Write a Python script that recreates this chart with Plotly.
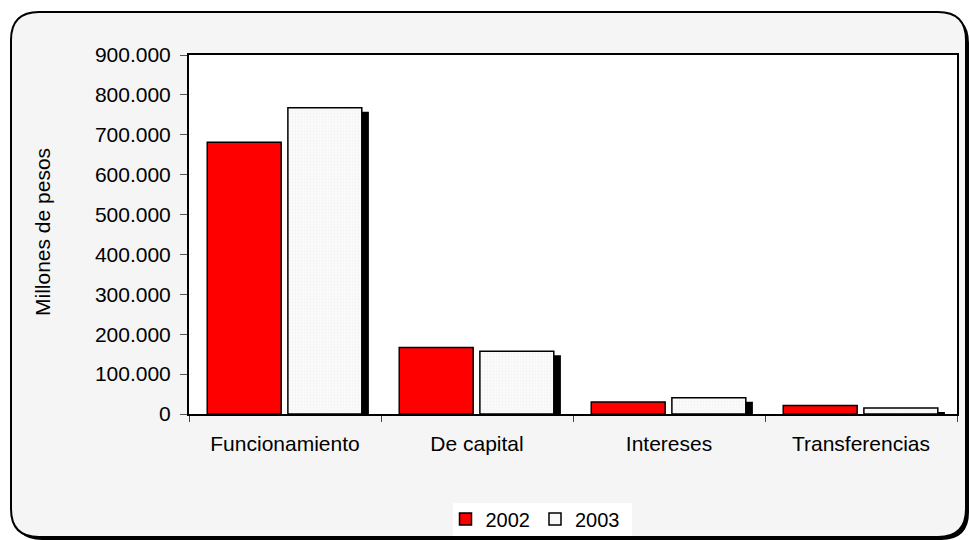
import plotly.graph_objects as go

categories = ["Funcionamiento", "De capital", "Intereses", "Transferencias"]
values_2002 = [681000, 167000, 30000, 21000]
values_2003 = [768000, 157000, 41000, 15000]
y_tick_values = [0, 100000, 200000, 300000, 400000, 500000, 600000, 700000, 800000, 900000]
series_names = ["2002", "2003"]

W, H = 969, 540
ML, MR, MT, MB = 189, 12, 55, 126
PW = W - ML - MR
PH = H - MT - MB
FONT = "Liberation Sans, Arial, sans-serif"
FS = 21


def px(x):
    return (x - ML) / PW


def py(y):
    return (H - MB - y) / PH


def rounded_path(x0, y0, x1, y1, r):
    pts = [
        ("M", [(x0 + r, y0)]),
        ("L", [(x1 - r, y0)]),
        ("Q", [(x1, y0), (x1, y0 + r)]),
        ("L", [(x1, y1 - r)]),
        ("Q", [(x1, y1), (x1 - r, y1)]),
        ("L", [(x0 + r, y1)]),
        ("Q", [(x0, y1), (x0, y1 - r)]),
        ("L", [(x0, y0 + r)]),
        ("Q", [(x0, y0), (x0 + r, y0)]),
    ]
    s = ""
    for cmd, plist in pts:
        s += cmd + " " + " ".join(f"{px(a):.5f},{py(b):.5f}" for a, b in plist) + " "
    return s + "Z"


shadow_2003 = [max(v - 10000, 0) for v in values_2003]

fig = go.Figure()
fig.add_trace(go.Bar(
    x=categories, y=values_2002, name=series_names[0],
    offset=-0.405, width=0.385,
    marker=dict(color="#ff0000", line=dict(color="black", width=1.5)),
))
fig.add_trace(go.Bar(
    x=categories, y=shadow_2003, name="shadow", showlegend=False,
    offset=0.052, width=0.385,
    marker=dict(color="black", line=dict(width=0)),
    hoverinfo="skip",
))
fig.add_trace(go.Bar(
    x=categories, y=values_2003, name=series_names[1],
    offset=0.015, width=0.385,
    marker=dict(color="white",
                pattern=dict(shape=".", fgcolor="#ebebeb", bgcolor="#fbfbfb", size=3, solidity=0.3),
                line=dict(color="black", width=1.5)),
))

shapes = [
    dict(type="path", xref="paper", yref="paper", layer="below",
         path=rounded_path(14, 15, 969, 540, 28),
         fillcolor="black", line=dict(width=0)),
    dict(type="path", xref="paper", yref="paper", layer="below",
         path=rounded_path(11, 12, 966, 537, 28),
         fillcolor="#f5f5f5", line=dict(color="black", width=2)),
    dict(type="rect", xref="paper", yref="paper", layer="below",
         x0=0, x1=1, y0=0, y1=1, fillcolor="white", line=dict(width=0)),
    dict(type="rect", xref="paper", yref="paper", layer="below",
         x0=px(453), x1=px(632), y0=py(503), y1=py(536),
         fillcolor="white", line=dict(width=0)),
]

fig.update_layout(
    width=W, height=H,
    margin=dict(l=ML, r=MR, t=MT, b=MB, autoexpand=False),
    paper_bgcolor="white",
    plot_bgcolor="white",
    barmode="overlay",
    separators=",.",
    font=dict(family=FONT, size=FS, color="black"),
    shapes=shapes,
    showlegend=True,
    legend=dict(
        orientation="h", x=px(535), xanchor="center", y=py(519), yanchor="middle",
        bgcolor="rgba(0,0,0,0)", font=dict(size=20), traceorder="normal",
        itemwidth=30, tracegroupgap=0,
    ),
    annotations=[dict(
        text="Millones de pesos", textangle=-90, showarrow=False,
        xref="paper", yref="paper", x=px(42), y=py(232),
        xanchor="center", yanchor="middle", font=dict(size=FS),
    )],
)

fig.update_xaxes(
    showline=True, linecolor="black", linewidth=2, mirror=True,
    ticks="outside", tickson="boundaries", ticklen=6, tickcolor="#444",
    tickfont=dict(size=FS), ticklabelstandoff=10, showgrid=False,
    range=[-0.5, 3.5],
)
fig.update_yaxes(
    range=[0, 900000], tickvals=y_tick_values, tickformat=",.0f",
    showline=True, linecolor="black", linewidth=2, mirror=True,
    ticks="outside", ticklen=7, tickcolor="#555",
    tickfont=dict(size=FS), ticklabelstandoff=5, showgrid=False, zeroline=False,
)

fig.write_html("out.html", config={"displayModeBar": False},
               post_script="document.body.style.margin='0';")
